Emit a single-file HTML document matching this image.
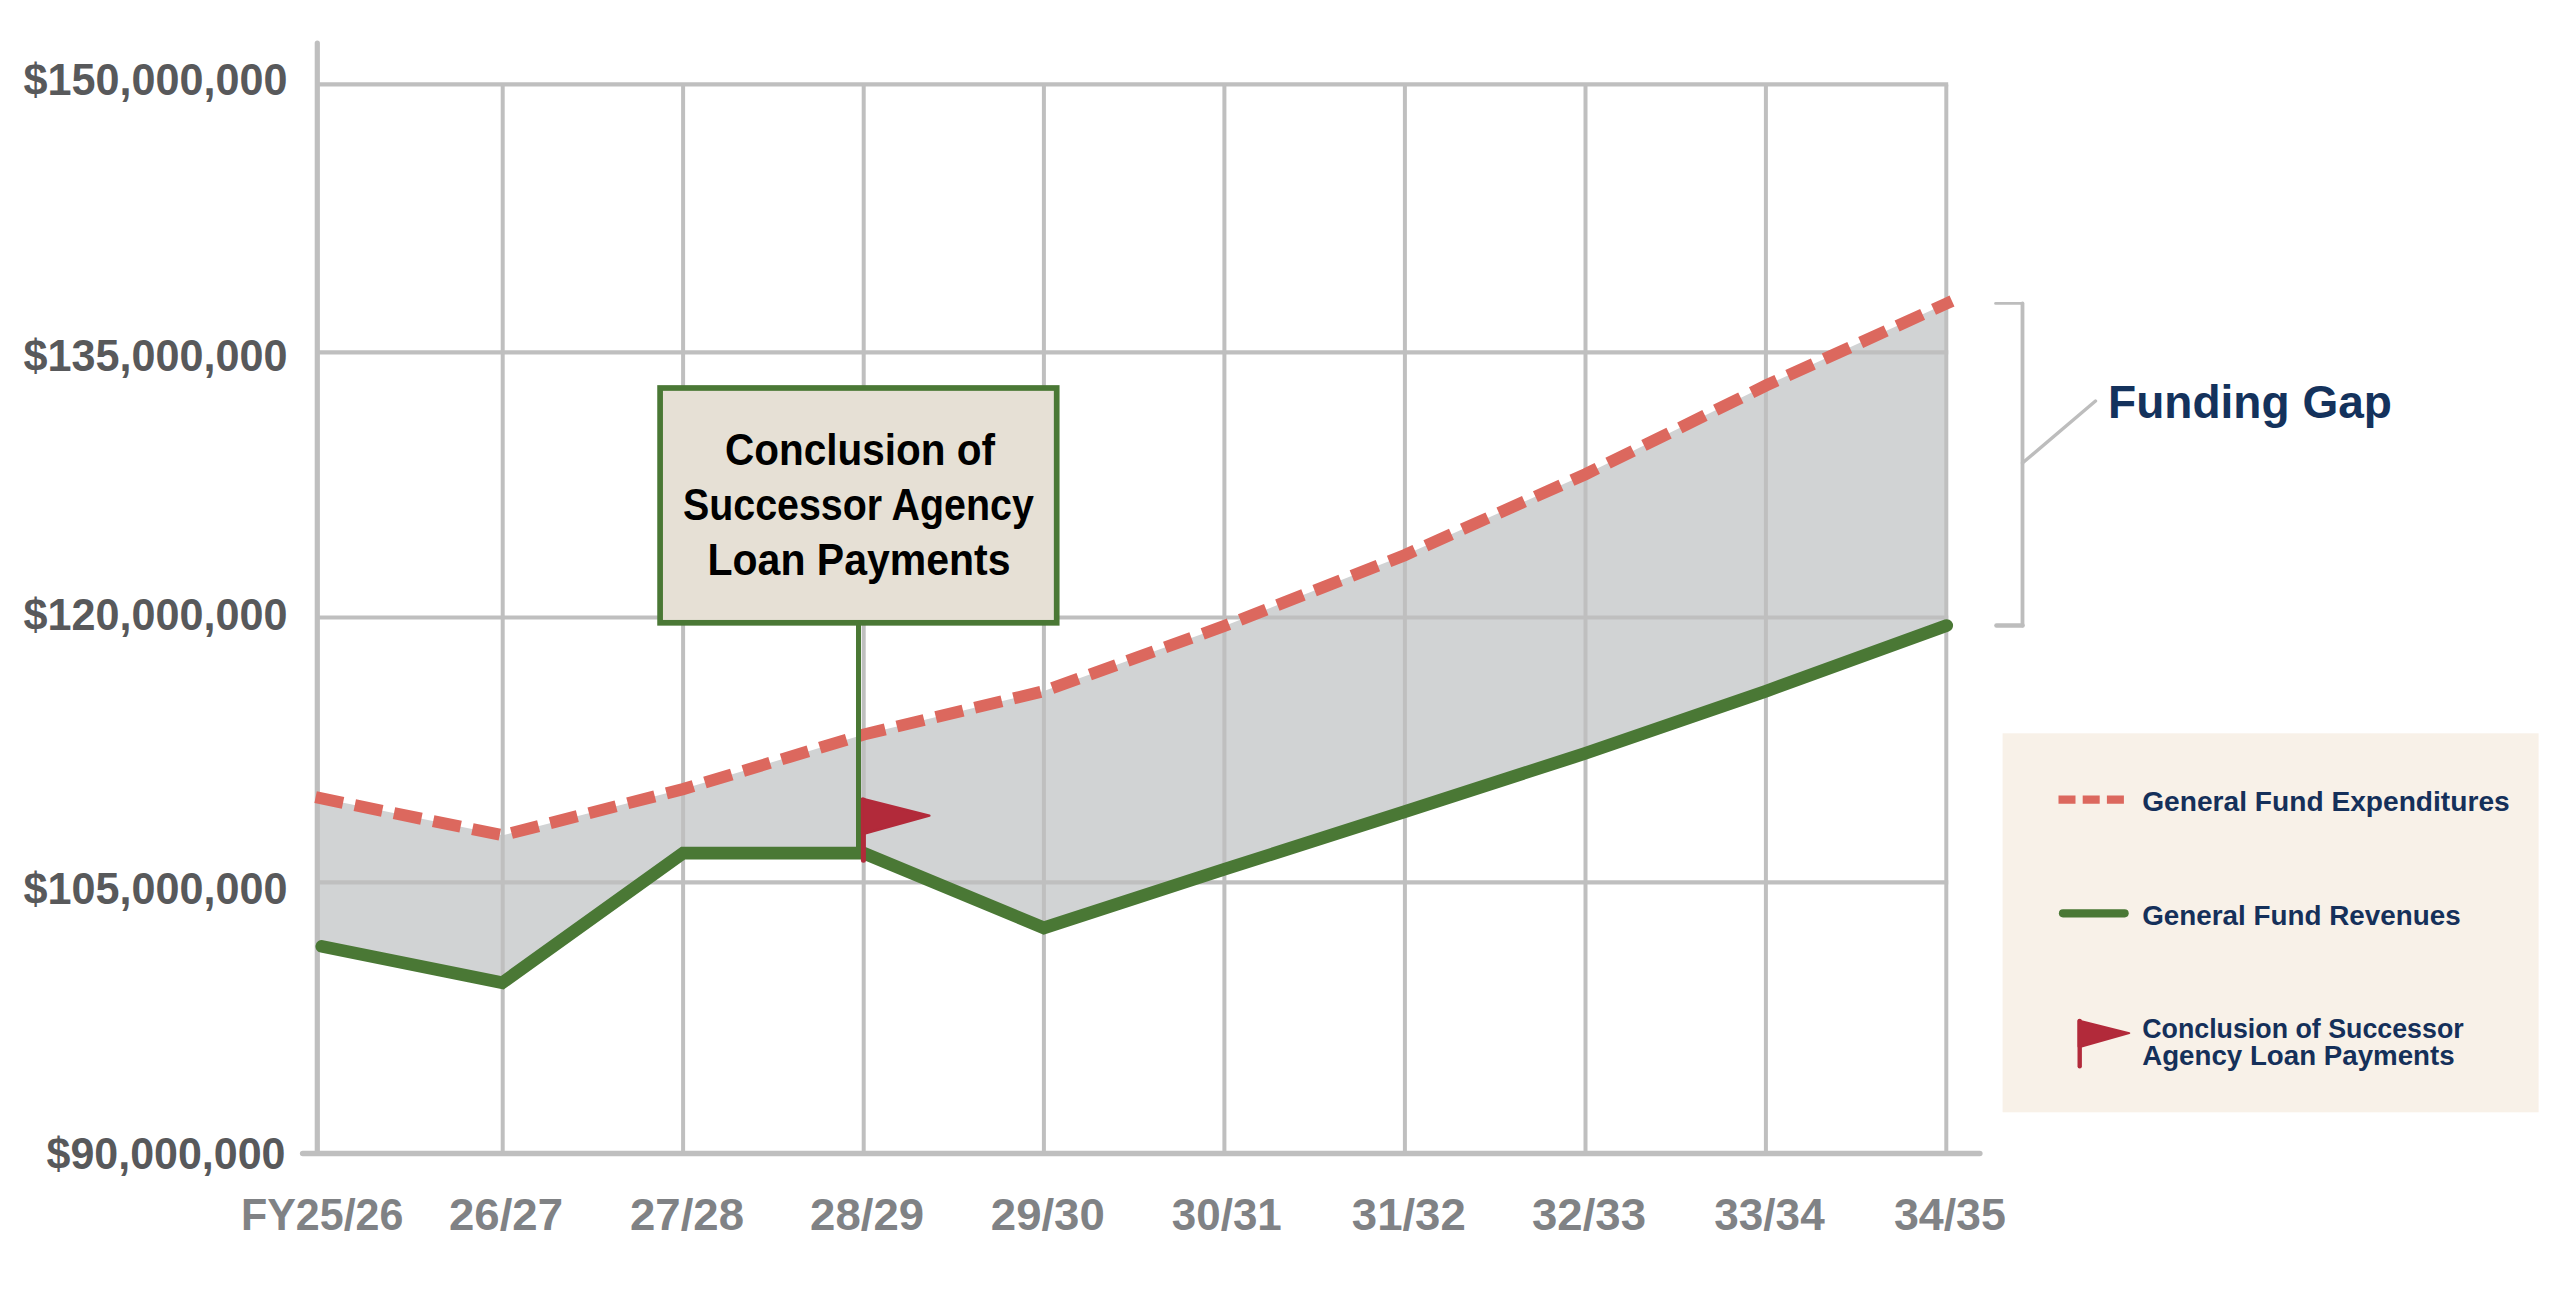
<!DOCTYPE html>
<html lang="en">
<head>
<meta charset="utf-8">
<title>General Fund Forecast</title>
<style>
  html, body { margin: 0; padding: 0; background: #ffffff; }
  body { width: 2550px; height: 1298px; overflow: hidden; }
  svg { display: block; }
  text { font-family: "Liberation Sans", sans-serif; font-weight: 700; }
  .ylab { font-size: 44.5px; fill: #58595b; text-anchor: end; }
  .xlab { font-size: 44.5px; fill: #808285; text-anchor: middle; }
  .call { font-size: 43.5px; fill: #000000; text-anchor: middle; }
  .leg  { font-size: 28.4px; fill: #15305a; }
  .gap  { font-size: 46.5px; fill: #14325c; }
  .grid { stroke: #bfbfbf; fill: none; }
</style>
</head>
<body>
<svg width="2550" height="1298" viewBox="0 0 2550 1298">
  <rect x="0" y="0" width="2550" height="1298" fill="#ffffff"/>

  <!-- funding gap fill -->
  <polygon fill="#d1d3d4" points="315.2,797.1 502.7,835.3 683.1,789.1 863.9,734.5 1043.9,691.1 1224.4,626 1404.9,555.1 1585.5,474.2 1765.9,385.5 1946.3,303.6 1946.3,625.6 1765.9,691.2 1585.5,753.3 1404.9,811.6 1224.4,869.3 1043.9,927.9 863.6,853.1 683.1,853.1 502.2,982.8 315.2,945.2"/>

  <!-- grid -->
  <g class="grid" stroke-width="4.4">
    <line x1="317.3" y1="84.4" x2="1948.2" y2="84.4"/>
    <line x1="317.3" y1="352.4" x2="1948.2" y2="352.4"/>
    <line x1="317.3" y1="617.5" x2="1948.2" y2="617.5" stroke-width="3.8"/>
    <line x1="317.3" y1="882.4" x2="1948.2" y2="882.4"/>
  </g>
  <g class="grid" stroke-width="4">
    <line x1="502.7" y1="84.4" x2="502.7" y2="1153"/>
    <line x1="683.1" y1="84.4" x2="683.1" y2="1153"/>
    <line x1="863.7" y1="84.4" x2="863.7" y2="1153"/>
    <line x1="1043.9" y1="84.4" x2="1043.9" y2="1153"/>
    <line x1="1224.4" y1="84.4" x2="1224.4" y2="1153"/>
    <line x1="1404.9" y1="84.4" x2="1404.9" y2="1153"/>
    <line x1="1585.5" y1="84.4" x2="1585.5" y2="1153"/>
    <line x1="1765.9" y1="84.4" x2="1765.9" y2="1153"/>
    <line x1="1946.3" y1="84.4" x2="1946.3" y2="1153"/>
  </g>
  <!-- axes -->
  <line class="grid" x1="317.3" y1="43" x2="317.3" y2="1153" stroke-width="5.2" stroke-linecap="round"/>
  <line class="grid" x1="302.7" y1="1153.5" x2="1979.8" y2="1153.5" stroke-width="5.6" stroke-linecap="round"/>

  <!-- expenditures (dashed) -->
  <polyline fill="none" stroke="#dc685e" stroke-width="12" stroke-dasharray="28 12" points="315.6,797.2 502.7,835.3 683.1,789.1 863.9,734.5 1043.9,691.1 1224.4,626 1404.9,555.1 1585.5,474.2 1765.9,385.5 1946.3,303.6 1952,301"/>

  <!-- revenues -->
  <polyline fill="none" stroke="#4a7835" stroke-width="12.7" stroke-linecap="round" stroke-linejoin="miter" points="321.8,946.4 502.2,982.8 683.1,853.1 863.6,853.1 1043.9,927.9 1224.4,869.3 1404.9,811.6 1585.5,753.3 1765.9,691.2 1946.7,625.5"/>

  <!-- callout stem + box -->
  <line x1="858.5" y1="622" x2="858.5" y2="853" stroke="#4a7835" stroke-width="5"/>
  <rect x="660.1" y="388" width="396.6" height="234.8" fill="#e6e0d5" stroke="#4a7835" stroke-width="5.7"/>
  <text class="call" x="860" y="465.4" textLength="270" lengthAdjust="spacingAndGlyphs">Conclusion of</text>
  <text class="call" x="858.4" y="519.8" textLength="351" lengthAdjust="spacingAndGlyphs">Successor Agency</text>
  <text class="call" x="859" y="575" textLength="303" lengthAdjust="spacingAndGlyphs">Loan Payments</text>

  <!-- flag -->
  <line x1="863.4" y1="800" x2="863.4" y2="860.2" stroke="#b22a3a" stroke-width="5" stroke-linecap="round"/>
  <polygon points="862.1,798.7 929.4,815.7 865.4,833.3 862.1,833.3" fill="#b22a3a" stroke="#b22a3a" stroke-width="2.4" stroke-linejoin="round"/>

  <!-- bracket -->
  <g fill="none" stroke="#bdbdbd" stroke-linecap="round">
    <line x1="1995.5" y1="303.4" x2="2022.5" y2="303.4" stroke-width="2.6"/>
    <line x1="2022.5" y1="303.4" x2="2022.5" y2="625.5" stroke-width="3.8"/>
    <line x1="1996.5" y1="625.5" x2="2022.5" y2="625.5" stroke-width="4.6"/>
    <line x1="2022.5" y1="463" x2="2095.5" y2="401" stroke-width="3.4"/>
  </g>
  <text class="gap" x="2108" y="418.2" textLength="284" lengthAdjust="spacingAndGlyphs">Funding Gap</text>

  <!-- legend -->
  <rect x="2002.6" y="733.3" width="536" height="379" fill="#f8f1e8"/>
  <line x1="2058.5" y1="799.7" x2="2124" y2="799.7" stroke="#dc685e" stroke-width="8.3" stroke-dasharray="17 7.2"/>
  <line x1="2063" y1="913.3" x2="2124.6" y2="913.3" stroke="#4a7835" stroke-width="8.2" stroke-linecap="round"/>
  <line x1="2079.7" y1="1021" x2="2079.7" y2="1066.2" stroke="#b22a3a" stroke-width="4.4" stroke-linecap="round"/>
  <polygon points="2078.5,1020.4 2129.3,1033.1 2081.6,1046.5 2078.5,1046.5" fill="#b22a3a" stroke="#b22a3a" stroke-width="2" stroke-linejoin="round"/>
  <text class="leg" x="2142.2" y="810.7" textLength="367.5" lengthAdjust="spacingAndGlyphs">General Fund Expenditures</text>
  <text class="leg" x="2142.2" y="925.1" textLength="318.5" lengthAdjust="spacingAndGlyphs">General Fund Revenues</text>
  <text class="leg" x="2142.2" y="1038.1" textLength="321.5" lengthAdjust="spacingAndGlyphs">Conclusion of Successor</text>
  <text class="leg" x="2142.2" y="1065" textLength="312.5" lengthAdjust="spacingAndGlyphs">Agency Loan Payments</text>

  <!-- y labels -->
  <text class="ylab" x="287.5" y="95.2" textLength="264" lengthAdjust="spacingAndGlyphs">$150,000,000</text>
  <text class="ylab" x="287.5" y="370.6" textLength="264" lengthAdjust="spacingAndGlyphs">$135,000,000</text>
  <text class="ylab" x="287.5" y="629.9" textLength="264" lengthAdjust="spacingAndGlyphs">$120,000,000</text>
  <text class="ylab" x="287.5" y="904" textLength="264" lengthAdjust="spacingAndGlyphs">$105,000,000</text>
  <text class="ylab" x="285.5" y="1168.5" textLength="239" lengthAdjust="spacingAndGlyphs">$90,000,000</text>

  <!-- x labels -->
  <text class="xlab" x="322.2" y="1229.7" textLength="162.5" lengthAdjust="spacingAndGlyphs">FY25/26</text>
  <text class="xlab" x="506" y="1229.7" textLength="114" lengthAdjust="spacingAndGlyphs">26/27</text>
  <text class="xlab" x="687" y="1229.7" textLength="114" lengthAdjust="spacingAndGlyphs">27/28</text>
  <text class="xlab" x="867.1" y="1229.7" textLength="114" lengthAdjust="spacingAndGlyphs">28/29</text>
  <text class="xlab" x="1047.8" y="1229.7" textLength="114" lengthAdjust="spacingAndGlyphs">29/30</text>
  <text class="xlab" x="1226.8" y="1229.7" textLength="110" lengthAdjust="spacingAndGlyphs">30/31</text>
  <text class="xlab" x="1408.8" y="1229.7" textLength="114" lengthAdjust="spacingAndGlyphs">31/32</text>
  <text class="xlab" x="1589" y="1229.7" textLength="114" lengthAdjust="spacingAndGlyphs">32/33</text>
  <text class="xlab" x="1769.5" y="1229.7" textLength="110.3" lengthAdjust="spacingAndGlyphs">33/34</text>
  <text class="xlab" x="1949.9" y="1229.7" textLength="112" lengthAdjust="spacingAndGlyphs">34/35</text>
</svg>
</body>
</html>
